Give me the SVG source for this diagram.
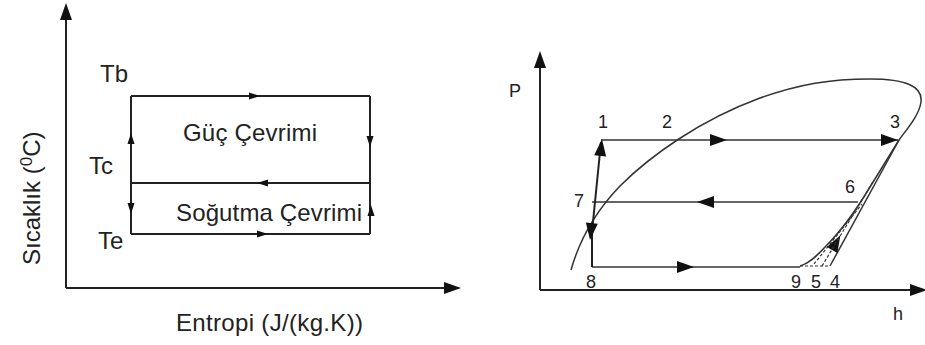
<svg xmlns="http://www.w3.org/2000/svg" width="925" height="345" viewBox="0 0 925 345">
<style>
.ln{stroke:#222;stroke-width:2;fill:none}
.thin{stroke:#333;stroke-width:1.5;fill:none}
.dash{stroke:#333;stroke-width:1.2;fill:none;stroke-dasharray:3 2}
.t{font-family:"Liberation Sans",Arial,sans-serif;font-size:24px;fill:#222}
.n{font-family:"Liberation Sans",Arial,sans-serif;font-size:18px;fill:#222}
.ah{fill:#111}
</style>
<defs>
<path id="sa" d="M6,0 L-5,-3.5 L-5,3.5 Z"/>
<path id="ba" d="M9,0 L-8,-6 L-8,6 Z"/>
</defs>
<rect width="925" height="345" fill="#fff"/>

<g id="connectors">
<!-- left axes -->
<line class="ln" x1="66" y1="288" x2="66" y2="14"/>
<use href="#ba" class="ah" transform="translate(66,12) rotate(-90)"/>
<line class="ln" x1="66" y1="288" x2="450" y2="288"/>
<use href="#ba" class="ah" transform="translate(452,288)"/>
<!-- rectangle -->
<line class="ln" x1="131" y1="96" x2="370" y2="96"/>
<line class="ln" x1="370" y1="96" x2="370" y2="234"/>
<line class="ln" x1="131" y1="234" x2="370" y2="234"/>
<line class="ln" x1="131" y1="96" x2="131" y2="234"/>
<line class="ln" x1="131" y1="183" x2="370" y2="183"/>
<use href="#sa" class="ah" transform="translate(254,96)"/>
<use href="#sa" class="ah" transform="translate(370,141) rotate(90)"/>
<use href="#sa" class="ah" transform="translate(263,183) rotate(180)"/>
<use href="#sa" class="ah" transform="translate(262,234)"/>
<use href="#sa" class="ah" transform="translate(131,139) rotate(-90)"/>
<use href="#sa" class="ah" transform="translate(131,208) rotate(90)"/>
<use href="#sa" class="ah" transform="translate(371,211) rotate(-90)"/>

<!-- right axes -->
<line class="ln" x1="540" y1="290" x2="540" y2="64"/>
<use href="#ba" class="ah" transform="translate(540,60) rotate(-90)"/>
<line class="ln" x1="540" y1="290" x2="916" y2="290"/>
<use href="#ba" class="ah" transform="translate(918,290)"/>
<!-- dome -->
<path class="thin" d="M571,270 C580,238 595,212 620,186 C650,156 700,120 760,98 C800,84 830,79 870,79 C905,79 923,86 921,102 C919,116 906,130 899,140 L870,187 C855,212 840,232 826,246 C815,258 808,264 800,266"/>
<!-- cycle lines -->
<line class="thin" x1="601" y1="140" x2="898" y2="140"/>
<use href="#ba" class="ah" transform="translate(718,140)"/>
<use href="#ba" class="ah" transform="translate(889,140)"/>
<line class="thin" x1="592" y1="202" x2="858" y2="202"/>
<use href="#ba" class="ah" transform="translate(706,202) rotate(180)"/>
<line class="thin" x1="592" y1="267" x2="800" y2="267"/>
<use href="#ba" class="ah" transform="translate(685,267)"/>
<path class="ln" d="M592,267 L592,232 L601,142"/>
<use href="#ba" class="ah" transform="translate(601,148) rotate(-84)"/>
<use href="#ba" class="ah" transform="translate(591,231) rotate(96)"/>
<line class="thin" x1="830" y1="266" x2="899" y2="140"/>
<use href="#ba" class="ah" transform="translate(836,243) rotate(-61)"/>
<line class="dash" x1="800" y1="266" x2="830" y2="266"/>
<line class="dash" x1="822" y1="266" x2="874" y2="180"/>
<line class="dash" x1="814" y1="264" x2="862" y2="204"/>
</g>

<g id="left-labels">
<text class="t" x="100" y="82">Tb</text>
<text class="t" x="89" y="174">Tc</text>
<text class="t" x="98" y="249">Te</text>
<text class="t" x="183" y="141" textLength="134">Güç Çevrimi</text>
<text class="t" x="176" y="221" textLength="186">Soğutma Çevrimi</text>
<text class="t" x="176" y="331" textLength="187">Entropi (J/(kg.K))</text>
<text class="t" transform="translate(40,265) rotate(-90)">Sıcaklık (<tspan dy="-8" font-size="17">0</tspan><tspan dy="8">C)</tspan></text>
</g>

<g id="right-labels">
<text class="n" x="509" y="97" font-size="20">P</text>
<text class="n" x="893" y="320" font-size="20">h</text>
<text class="n" x="598" y="128">1</text>
<text class="n" x="662" y="128">2</text>
<text class="n" x="890" y="128">3</text>
<text class="n" x="845" y="193">6</text>
<text class="n" x="574" y="207">7</text>
<text class="n" x="586" y="288">8</text>
<text class="n" x="791" y="288">9</text>
<text class="n" x="811" y="288">5</text>
<text class="n" x="830" y="288">4</text>
</g>
</svg>
